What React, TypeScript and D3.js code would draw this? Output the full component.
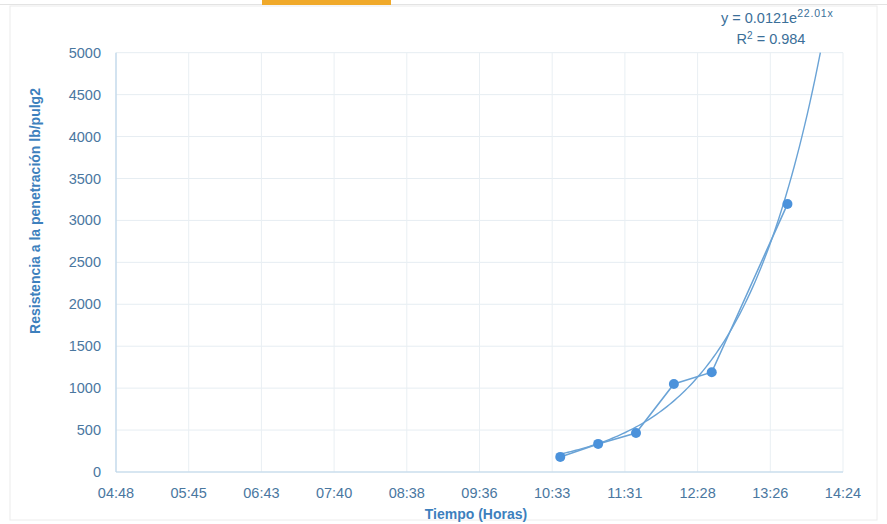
import React from "react";
import * as d3 from "d3";

// Time as fraction of day (Excel serial time)
const timeLabels = ["10:40", "11:10", "11:40", "12:10", "12:40", "13:40"];
const resistance = [180, 335, 465, 1050, 1190, 3195];
const xTickLabels = ["04:48", "05:45", "06:43", "07:40", "08:38", "09:36", "10:33", "11:31", "12:28", "13:26", "14:24"];
const yTicks = [0, 500, 1000, 1500, 2000, 2500, 3000, 3500, 4000, 4500, 5000];
const trendA = 0.0121;
const trendB = 22.01;

const toFrac = (s: string) => {
  const [h, m] = s.split(":").map(Number);
  return (h * 60 + m) / 1440;
};

export default function App() {
  const W = 887, H = 524;
  const left = 116, right = 843, top = 52.7, bottom = 472;
  const x = d3.scaleLinear().domain([0.2, 0.6]).range([left, right]);
  const y = d3.scaleLinear().domain([0, 5000]).range([bottom, top]);
  const xTickVals = d3.range(11).map((i) => 0.2 + i * 0.04);
  const pts = timeLabels.map((t, i) => ({ x: toFrac(t), y: resistance[i] }));

  const line = d3.line<{ x: number; y: number }>().x((d) => x(d.x)).y((d) => y(d.y));
  const xStart = pts[0].x;
  const xEnd = Math.log(5000 / trendA) / trendB;
  const trendPts = d3.range(0, 101).map((i) => {
    const xv = xStart + ((xEnd - xStart) * i) / 100;
    return { x: xv, y: trendA * Math.exp(trendB * xv) };
  });

  const tickColor = "#4a779f";
  const titleColor = "#3d80bd";
  const font = "'Liberation Sans', Arial, sans-serif";

  return (
    <svg width={W} height={H} style={{ position: "absolute", left: 0, top: 0, background: "#fff" }}>
      <rect x={0} y={0} width={W} height={H} fill="#fff" />
      {/* scanned page remnants */}
      <line x1={0} x2={W} y1={4.5} y2={4.5} stroke="#e3e3e3" strokeWidth={1} />
      <rect x={262} y={0} width={129} height={5} fill="#f0a92a" />
      <rect x={10} y={6} width={867} height={514} fill="none" stroke="#ececec" strokeWidth={1} />

      {/* gridlines */}
      {yTicks.map((t) => (
        <line key={"gy" + t} x1={left} x2={right} y1={y(t)} y2={y(t)} stroke="#e6edf2" strokeWidth={1} />
      ))}
      {xTickVals.map((t, i) => (
        <line key={"gx" + i} x1={x(t)} x2={x(t)} y1={top} y2={bottom} stroke="#e9eff3" strokeWidth={1} />
      ))}
      {/* axes */}
      <line x1={left} x2={left} y1={top} y2={bottom} stroke="#bcd6ea" strokeWidth={1.2} />
      <line x1={left} x2={right} y1={bottom} y2={bottom} stroke="#bcd6ea" strokeWidth={1.2} />

      {/* y tick labels */}
      {yTicks.map((t) => (
        <text key={"ty" + t} x={101} y={y(t)} dy="0.35em" textAnchor="end" fontFamily={font} fontSize={14.5} fill={tickColor}>
          {t}
        </text>
      ))}
      {/* x tick labels */}
      {xTickVals.map((t, i) => (
        <text key={"tx" + i} x={x(t)} y={498} textAnchor="middle" fontFamily={font} fontSize={14.5} fill={tickColor}>
          {xTickLabels[i]}
        </text>
      ))}

      {/* axis titles */}
      <text x={476} y={519} textAnchor="middle" fontFamily={font} fontWeight="bold" fontSize={14} fill={titleColor}>
        Tiempo (Horas)
      </text>
      <text transform={`translate(40,211) rotate(-90)`} textAnchor="middle" fontFamily={font} fontWeight="bold" fontSize={14} fill={titleColor}>
        Resistencia a la penetración lb/pulg2
      </text>

      {/* data line */}
      <path d={line(pts) || ""} fill="none" stroke="#6aa3d6" strokeWidth={1.6} />
      {/* trendline */}
      <path d={line(trendPts) || ""} fill="none" stroke="#6aa3d6" strokeWidth={1.4} />
      {pts.map((p, i) => (
        <circle key={"p" + i} cx={x(p.x)} cy={y(p.y)} r={5} fill="#4b92db" />
      ))}

      {/* trend equation */}
      <text x={721} y={23} textAnchor="start" fontFamily={font} fontSize={14.5} fill="#3b6f99">
        y = 0.0121e
        <tspan fontSize={10.5} dy={-6} letterSpacing={0.8}>22.01x</tspan>
      </text>
      <text x={771} y={44} textAnchor="middle" fontFamily={font} fontSize={14.5} fill="#3b6f99">
        R
        <tspan fontSize={10} dy={-5}>2</tspan>
        <tspan dy={5}> = 0.984</tspan>
      </text>
    </svg>
  );
}
